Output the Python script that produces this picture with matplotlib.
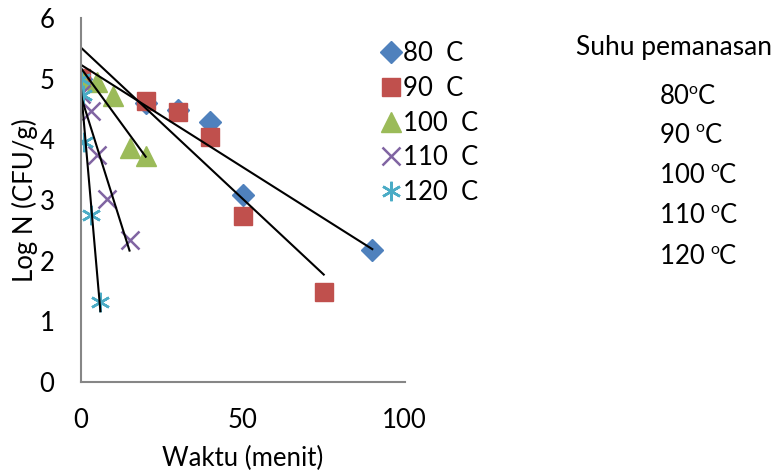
import numpy as np
import matplotlib.pyplot as plt
from matplotlib.transforms import IdentityTransform

plt.rcParams['font.family'] = ['Lato', 'DejaVu Sans']

# waktu (menit) dan log N tiap suhu
t80 = [0, 20, 30, 40, 50, 90]
n80 = [5.0, 4.6, 4.48, 4.28, 3.08, 2.17]
t90 = [0, 20, 30, 40, 50, 75]
n90 = [5.02, 4.63, 4.45, 4.04, 2.73, 1.48]
t100 = [0, 5, 10, 15, 20]
n100 = [5.0, 4.94, 4.71, 3.85, 3.72]
t110 = [0, 3, 5, 8, 15]
n110 = [4.75, 4.46, 3.74, 3.01, 2.34]
t120 = [0, 0.5, 1, 3, 6]
n120 = [5.0, 4.73, 3.95, 2.75, 1.32]

labels = ['80  C', '90  C', '100  C', '110  C', '120  C']
side_nums = ['80', '90 ', '100 ', '110 ', '120 ']

series = [(t80, n80), (t90, n90), (t100, n100), (t110, n110), (t120, n120)]
colors = ['#4F81BD', '#C0504D', '#9BBB59', '#8064A2', '#4BACC6']
markers = ['D', 's', '^', 'x', (6, 2, 0)]
sizes = [11, 13, 14, 13, 14]

fs = 18.5

fig = plt.figure(figsize=(7.8, 4.72), dpi=100)
ax = fig.add_axes([0.1038, 0.1907, 0.415, 0.771])

handles = []
for (t, n), c, m, s, lab in zip(series, colors, markers, sizes, labels):
    if m in ('x', (6, 2, 0)):
        h, = ax.plot(t, n, linestyle='none', marker=m, ms=s, mec=c, mew=1.8, label=lab)
    else:
        h, = ax.plot(t, n, linestyle='none', marker=m, ms=s, color=c, mec=c, label=lab)
    handles.append(h)

# garis tren linear
for t, n in series:
    k, b = np.polyfit(t, n, 1)
    xs = np.array([min(t), max(t)])
    ax.plot(xs, k * xs + b, color='black', lw=1.5)

ax.set_xlim(0, 100)
ax.set_ylim(0, 6)
ax.set_xticks([0, 50, 100])
ax.set_yticks(range(0, 7))
for sp in ['top', 'right']:
    ax.spines[sp].set_visible(False)
for sp in ['left', 'bottom']:
    ax.spines[sp].set_color('#868686')
    ax.spines[sp].set_linewidth(1.5)
ax.tick_params(axis='y', length=0, labelsize=fs, pad=19)
ax.tick_params(axis='x', length=0, labelsize=fs, pad=19)
ax.set_xlabel('Waktu (menit)', fontsize=fs, labelpad=9)
ax.set_ylabel('Log N (CFU/g)', fontsize=fs, labelpad=1)

ax.legend(handles=handles, loc='upper left', bbox_to_anchor=(0.470, 0.94),
          bbox_transform=fig.transFigure, frameon=False, fontsize=fs,
          handletextpad=0.0, handlelength=0.9, labelspacing=0.38, borderpad=0)

fig.text(0.738, 0.90, 'Suhu pemanasan', fontsize=fs + 0.5, va='center')

# angka suhu dengan tanda derajat kecil
ys = [0.78, 0.698, 0.613, 0.527, 0.44]
px = fig.dpi / 72
fig.canvas.draw()
r = fig.canvas.get_renderer()
for yy, num in zip(ys, side_nums):
    t1 = fig.text(0.846, yy, num, fontsize=fs, va='baseline')
    bb = t1.get_window_extent(r)
    base = yy * fig.bbox.height
    o_base = base + fs * px * 0.72 - fs * 0.62 * px * 0.52
    o = fig.text(bb.x1 - 1, o_base, 'o', fontsize=fs * 0.62, va='baseline', ha='left',
                 transform=IdentityTransform())
    ob = o.get_window_extent(r)
    fig.text(ob.x1, base, 'C', fontsize=fs, va='baseline', ha='left',
             transform=IdentityTransform())

fig.savefig('out.png', dpi=100)
